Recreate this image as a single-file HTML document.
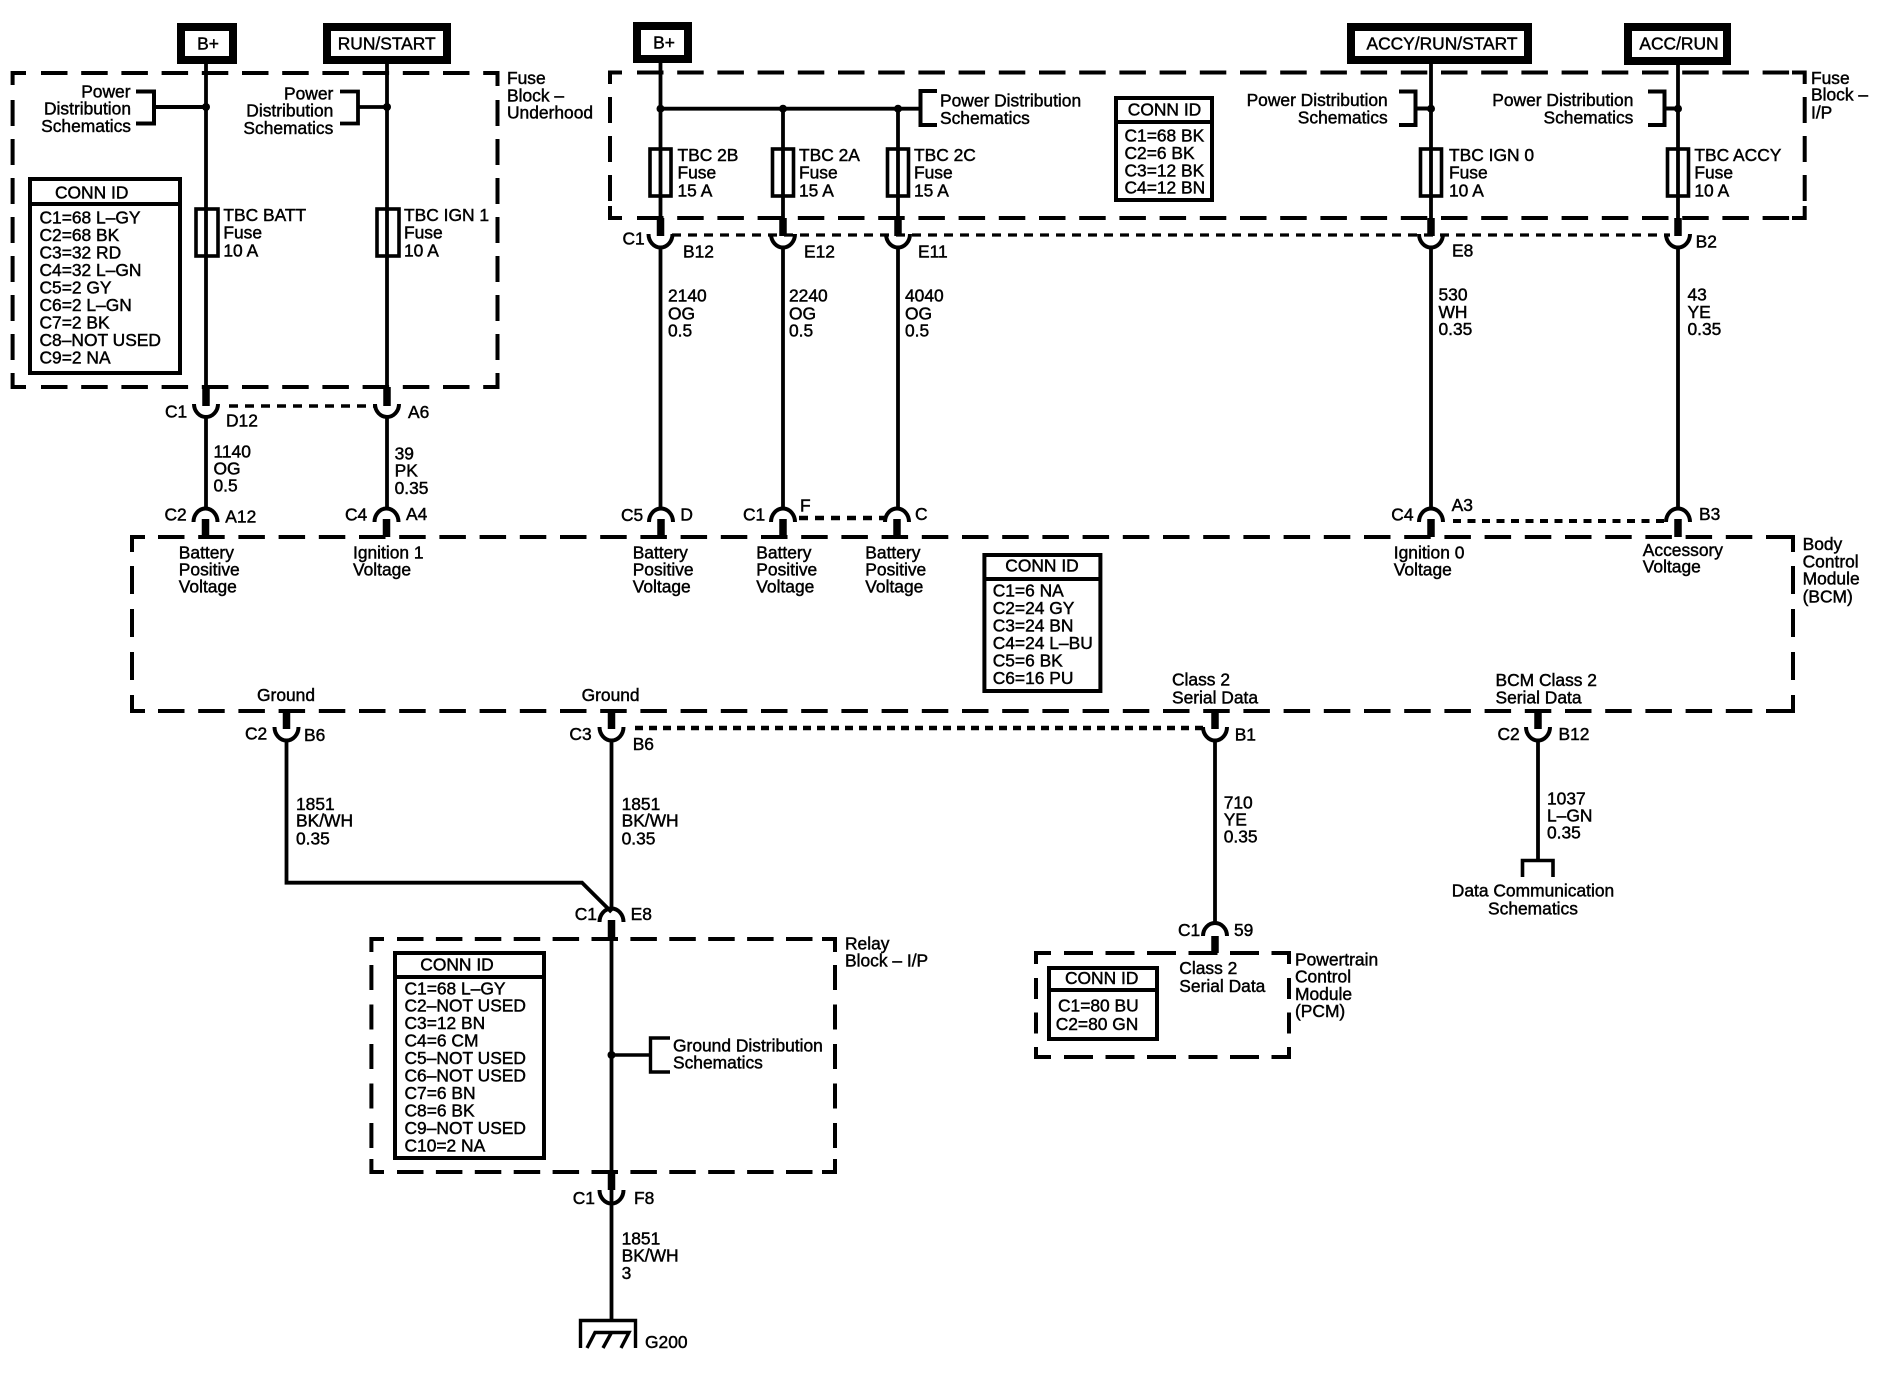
<!DOCTYPE html>
<html>
<head>
<meta charset="utf-8">
<style>
html,body{margin:0;padding:0;background:#fff;width:1878px;height:1392px;overflow:hidden}
svg{display:block}
text{font-family:"Liberation Sans",sans-serif;font-size:17.4px;fill:#000;stroke:#000;stroke-width:.45}
.e{text-anchor:end}.m{text-anchor:middle}
path,line,rect{fill:none;stroke:#000;stroke-width:4}
.w{stroke-width:3.8}
.d{stroke-width:4;stroke-dasharray:26.5 13.7}
.v{stroke-width:4;stroke-dasharray:26 13}
.s{stroke-width:3.6;stroke-dasharray:9 7}
.b{stroke-width:7.5}
.t{stroke-width:8}
.f{fill:#fff;stroke-width:3.6}
circle{fill:#000}
</style>
</head>
<body>
<svg width="1878" height="1392" viewBox="0 0 1878 1392" xmlns="http://www.w3.org/2000/svg">
<rect x="0" y="0" width="1878" height="1392" style="fill:#fff;stroke:none"/>

<!-- Top power boxes -->
<rect class="t" x="181" y="27" width="52" height="33"/>
<rect class="t" x="327" y="27" width="120" height="33"/>
<rect class="t" x="637" y="26" width="51" height="33"/>
<rect class="t" x="1351" y="27" width="177" height="33"/>
<rect class="t" x="1628" y="27" width="99" height="34"/>
<text class="m" x="208" y="49.5">B+</text>
<text class="m" x="386.7" y="49.5">RUN/START</text>
<text class="m" x="664" y="48.5">B+</text>
<text class="m" x="1442" y="49.5">ACCY/RUN/START</text>
<text class="m" x="1679" y="49.5">ACC/RUN</text>

<!-- Fuse Block Underhood -->
<path d="M26 73H12.6V85M484 73H497.5V86M12.6 373V387H26M484 387H497.5V373"/>
<line class="d" x1="41" y1="73" x2="484" y2="73"/>
<line class="d" x1="41" y1="387" x2="484" y2="387"/>
<line class="v" x1="12.6" y1="100" x2="12.6" y2="373"/>
<line class="v" x1="497.5" y1="100" x2="497.5" y2="373"/>

<!-- Fuse Block I/P -->
<path d="M622 72.5H610V84M1792 72.5H1804.7V84M610 206V218H622M1792 218H1804.7V206"/>
<line class="d" x1="637" y1="72.5" x2="1792" y2="72.5"/>
<line class="d" x1="637" y1="218" x2="1792" y2="218"/>
<line class="v" x1="610" y1="97" x2="610" y2="206"/>
<line class="v" x1="1804.7" y1="97" x2="1804.7" y2="206"/>

<!-- BCM -->
<path d="M145 537H132V552M1780 537H1793V552M132 697V711H145M1780 711H1793V697"/>
<line class="d" x1="158" y1="537" x2="1780" y2="537"/>
<line class="d" x1="158" y1="711" x2="1780" y2="711"/>
<line class="v" style="stroke-dasharray:28 15" x1="132" y1="566" x2="132" y2="697"/>
<line class="v" style="stroke-dasharray:28 15" x1="1793" y1="566" x2="1793" y2="697"/>

<!-- Relay block -->
<path d="M384 939H371.4V952M822 939H835V952M371.4 1159V1172H384M822 1172H835V1159"/>
<line class="d" style="stroke-dasharray:26.5 12.4" x1="397" y1="939" x2="822" y2="939"/>
<line class="d" style="stroke-dasharray:26.5 12.4" x1="397" y1="1172" x2="822" y2="1172"/>
<line class="v" style="stroke-dasharray:25 14.5" x1="371.4" y1="965" x2="371.4" y2="1159"/>
<line class="v" style="stroke-dasharray:25 14.5" x1="835" y1="965" x2="835" y2="1159"/>

<!-- PCM -->
<path d="M1051 953H1036V964M1275 953H1289V964M1036 1047V1057H1051M1275 1057H1289V1047"/>
<line class="d" style="stroke-dasharray:29 12.5" x1="1064" y1="953" x2="1275" y2="953"/>
<line class="d" style="stroke-dasharray:29 12.5" x1="1064" y1="1057" x2="1275" y2="1057"/>
<line class="v" style="stroke-dasharray:21 13.5" x1="1036" y1="978" x2="1036" y2="1047"/>
<line class="v" style="stroke-dasharray:21 13.5" x1="1289" y1="978" x2="1289" y2="1047"/>

<!-- Dashed connector links -->
<line class="s" x1="229" y1="406" x2="375" y2="406"/>
<line class="s" style="stroke-width:3.2" x1="672" y1="235" x2="1670" y2="235"/>
<line class="s" style="stroke-width:4.5" x1="799" y1="518" x2="885" y2="518"/>
<line class="s" style="stroke-width:4;stroke-dasharray:8 6.5" x1="1453" y1="521" x2="1665" y2="521"/>
<line class="s" style="stroke-width:4.5;stroke-dasharray:8 6" x1="635" y1="728" x2="1205" y2="728"/>

<!-- Wires -->
<path class="w" d="M206 64V404M387 64V404M206 417V508M387 417V508"/>
<path class="w" d="M660.5 63V233M783 108V233M898 108V233M1431 64V233M1678 64V233"/>
<path class="w" d="M660.5 248V508M783 248V508M898 248V508M1431 248V508M1678 248V508"/>
<path class="w" d="M660.5 108.7H919"/>
<path class="w" d="M286.5 741V882.7H582L611.5 912"/>
<path class="w" d="M611.5 741V908M611.5 939V1320"/>
<path class="w" d="M1215 741V923"/>
<path class="w" d="M1538 741V860"/>

<!-- Brackets -->
<path d="M136 91.5H154V123.5H136M154 107H206"/>
<path d="M340 91.5H358V123.5H340M358 107H387" style="stroke-width:3.8"/>
<path d="M937 91H920.5V125H937"/>
<path d="M1399 91.5H1415.5V125H1399M1415.5 108.5H1431"/>
<path d="M1648 91.5H1664.5V125H1648M1664.5 108.5H1678"/>
<path d="M670 1038H650.5V1072H670M650.5 1055H611.5" style="stroke-width:3.4"/>
<path d="M1522.5 877V860.5H1553V877" style="stroke-width:3.6"/>

<!-- Junction dots -->
<circle cx="206" cy="107" r="4"/><circle cx="387" cy="107" r="4"/>
<circle cx="660.5" cy="108.7" r="4"/><circle cx="783" cy="108.7" r="4"/><circle cx="898" cy="108.7" r="4"/>
<circle cx="1431" cy="108.7" r="4"/><circle cx="1678" cy="108.7" r="4"/>
<circle cx="611.5" cy="1055" r="4"/>

<!-- Fuses -->
<g>
<rect class="f" style="fill:none" x="196" y="209" width="22" height="47"/>
<rect class="f" style="fill:none" x="377" y="209" width="22" height="47"/>
<rect class="f" style="fill:none" x="650" y="149" width="21" height="47"/>
<rect class="f" style="fill:none" x="772.5" y="149" width="21" height="47"/>
<rect class="f" style="fill:none" x="887.5" y="149" width="21" height="47"/>
<rect class="f" style="fill:none" x="1420.5" y="149" width="21" height="47"/>
<rect class="f" style="fill:none" x="1667.5" y="149" width="21" height="47"/>
</g>

<!-- Connector bars and cups -->
<path class="b" d="M206 387V406M387 387V406M660.5 218V236M783 218V236M898 218V236M1431 218V236M1678 218V236"/>
<path class="b" d="M205.5 519V537M386.5 519V537M661 519V537M783 519V537M897 519V537M1431 519V537M1678 519V537"/>
<path class="b" d="M286.5 711V729M611.5 711V729M1215 711V729M1538 711V729"/>
<path class="b" d="M611.5 920V939M611.5 1172V1190M1215 936V953"/>
<path d="M194 404A12 13 0 0 0 218 404M375 404A12 13 0 0 0 399 404"/>
<path d="M648.5 234A12 13.5 0 0 0 672.5 234M771 234A12 13.5 0 0 0 795 234M886 234A12 13.5 0 0 0 910 234M1419 234A12 13.5 0 0 0 1443 234M1666 234A12 13.5 0 0 0 1690 234"/>
<path d="M274.5 727A12 13.5 0 0 0 298.5 727M599.5 727A12 13.5 0 0 0 623.5 727M1203 727A12 13.5 0 0 0 1227 727M1526 727A12 13.5 0 0 0 1550 727"/>
<path d="M599.5 1190A12 13.5 0 0 0 623.5 1190"/>
<path d="M193.5 522A12 13.5 0 0 1 217.5 522M374.5 522A12 13.5 0 0 1 398.5 522M649 522A12 13.5 0 0 1 673 522M771 522A12 13.5 0 0 1 795 522M885 522A12 13.5 0 0 1 909 522M1419 522A12 13.5 0 0 1 1443 522M1666 522A12 13.5 0 0 1 1690 522"/>
<path d="M599.5 922A12 13.5 0 0 1 623.5 922M1203 936A12 13 0 0 1 1227 936"/>

<!-- Ground -->
<path d="M580.5 1348V1320.5H635.5V1348" style="stroke-width:3.4"/>
<path d="M587 1348L595 1332.5H629L621 1348M603 1348L611.5 1332.5" style="stroke-width:3.4"/>

<!-- CONN ID tables -->
<rect x="30" y="179" width="150" height="194"/><line x1="30" y1="204" x2="180" y2="204"/>
<rect x="1116" y="98" width="96" height="102"/><line x1="1116" y1="122" x2="1212" y2="122"/>
<rect x="984.4" y="555" width="116" height="136"/><line x1="984" y1="579" x2="1100" y2="579"/>
<rect x="395" y="953" width="149" height="205"/><line x1="395" y1="977" x2="544" y2="977"/>
<rect x="1049" y="968" width="108" height="71"/><line x1="1049" y1="990" x2="1157" y2="990"/>

<!-- Table text -->
<text class="m" x="91.7" y="198.7">CONN ID</text>
<text x="39.5" y="223.3">C1=68 L–GY</text>
<text x="39.5" y="240.8">C2=68 BK</text>
<text x="39.5" y="258.3">C3=32 RD</text>
<text x="39.5" y="275.8">C4=32 L–GN</text>
<text x="39.5" y="293.3">C5=2 GY</text>
<text x="39.5" y="310.8">C6=2 L–GN</text>
<text x="39.5" y="328.3">C7=2 BK</text>
<text x="39.5" y="345.8">C8–NOT USED</text>
<text x="39.5" y="363.5">C9=2 NA</text>

<text class="m" x="1164.5" y="115.3">CONN ID</text>
<text x="1124.5" y="141.7">C1=68 BK</text>
<text x="1124.5" y="159">C2=6 BK</text>
<text x="1124.5" y="176.5">C3=12 BK</text>
<text x="1124.5" y="193.7">C4=12 BN</text>

<text class="m" x="1042" y="571.7">CONN ID</text>
<text x="992.7" y="596.7">C1=6 NA</text>
<text x="992.7" y="614.2">C2=24 GY</text>
<text x="992.7" y="631.7">C3=24 BN</text>
<text x="992.7" y="649.2">C4=24 L–BU</text>
<text x="992.7" y="666.7">C5=6 BK</text>
<text x="992.7" y="684.2">C6=16 PU</text>

<text class="m" x="457" y="970.7">CONN ID</text>
<text x="404.5" y="994.3">C1=68 L–GY</text>
<text x="404.5" y="1011.7">C2–NOT USED</text>
<text x="404.5" y="1029">C3=12 BN</text>
<text x="404.5" y="1046.7">C4=6 CM</text>
<text x="404.5" y="1064">C5–NOT USED</text>
<text x="404.5" y="1081.5">C6–NOT USED</text>
<text x="404.5" y="1099">C7=6 BN</text>
<text x="404.5" y="1116.5">C8=6 BK</text>
<text x="404.5" y="1134">C9–NOT USED</text>
<text x="404.5" y="1151.7">C10=2 NA</text>

<text class="m" x="1101.7" y="984">CONN ID</text>
<text x="1058" y="1011.7">C1=80 BU</text>
<text x="1055.7" y="1030">C2=80 GN</text>

<!-- Left block labels -->
<text class="e" x="130.5" y="97.3">Power</text>
<text class="e" x="131" y="114.7">Distribution</text>
<text class="e" x="131" y="132">Schematics</text>
<text class="e" x="333.3" y="99.3">Power</text>
<text class="e" x="333.3" y="116.7">Distribution</text>
<text class="e" x="333.3" y="134">Schematics</text>
<text x="507" y="84">Fuse</text>
<text x="507" y="101.3">Block –</text>
<text x="507" y="118.3">Underhood</text>
<text x="223.4" y="221">TBC BATT</text>
<text x="223.4" y="238.3">Fuse</text>
<text x="223.4" y="256.3">10 A</text>
<text x="404" y="221">TBC IGN 1</text>
<text x="404" y="238.3">Fuse</text>
<text x="404" y="256.3">10 A</text>
<text x="165" y="417.3">C1</text>
<text x="226" y="426.7">D12</text>
<text x="408" y="418">A6</text>
<text x="213.5" y="457.3">1140</text>
<text x="213.5" y="474.7">OG</text>
<text x="213.5" y="491.7">0.5</text>
<text x="394.6" y="459.3">39</text>
<text x="394.6" y="476.7">PK</text>
<text x="394.6" y="494">0.35</text>

<!-- I/P block labels -->
<text x="677.5" y="161">TBC 2B</text>
<text x="677.5" y="178.3">Fuse</text>
<text x="677.5" y="196.7">15 A</text>
<text x="799" y="161">TBC 2A</text>
<text x="799" y="178.3">Fuse</text>
<text x="799" y="196.7">15 A</text>
<text x="914" y="161">TBC 2C</text>
<text x="914" y="178.3">Fuse</text>
<text x="914" y="196.7">15 A</text>
<text x="940" y="106.7">Power Distribution</text>
<text x="940" y="124">Schematics</text>
<text class="e" x="1387.7" y="106">Power Distribution</text>
<text class="e" x="1387.7" y="123.3">Schematics</text>
<text class="e" x="1633.4" y="106">Power Distribution</text>
<text class="e" x="1633.4" y="123.3">Schematics</text>
<text x="1449" y="161">TBC IGN 0</text>
<text x="1449" y="178.3">Fuse</text>
<text x="1449" y="196.7">10 A</text>
<text x="1694.4" y="161">TBC ACCY</text>
<text x="1694.4" y="178.3">Fuse</text>
<text x="1694.4" y="196.7">10 A</text>
<text x="1811" y="84">Fuse</text>
<text x="1811" y="100.7">Block –</text>
<text x="1811" y="118.3">I/P</text>
<text x="622.5" y="244.3">C1</text>
<text x="683" y="257.3">B12</text>
<text x="804" y="257.3">E12</text>
<text x="918" y="257.3">E11</text>
<text x="1452" y="256.7">E8</text>
<text x="1695.6" y="247.7">B2</text>
<text x="668" y="301.7">2140</text>
<text x="668" y="319.3">OG</text>
<text x="668" y="336.7">0.5</text>
<text x="789" y="301.7">2240</text>
<text x="789" y="319.3">OG</text>
<text x="789" y="336.7">0.5</text>
<text x="905" y="301.7">4040</text>
<text x="905" y="319.3">OG</text>
<text x="905" y="336.7">0.5</text>
<text x="1438.5" y="300.7">530</text>
<text x="1438.5" y="318">WH</text>
<text x="1438.5" y="335">0.35</text>
<text x="1687.5" y="300.7">43</text>
<text x="1687.5" y="318">YE</text>
<text x="1687.5" y="335">0.35</text>

<!-- BCM connector labels -->
<text x="164.5" y="520.7">C2</text>
<text x="225.3" y="522.3">A12</text>
<text x="345" y="520.7">C4</text>
<text x="406" y="520">A4</text>
<text x="621" y="521">C5</text>
<text x="680.4" y="520.3">D</text>
<text x="743" y="520.7">C1</text>
<text x="800" y="511.7">F</text>
<text x="915" y="520">C</text>
<text x="1391.3" y="520.7">C4</text>
<text x="1451.6" y="511">A3</text>
<text x="1699" y="520">B3</text>

<text x="178.8" y="558.3">Battery</text>
<text x="178.8" y="575.7">Positive</text>
<text x="178.8" y="592.7">Voltage</text>
<text x="353" y="558.3">Ignition 1</text>
<text x="353" y="575.5">Voltage</text>
<text x="632.7" y="558.3">Battery</text>
<text x="632.7" y="575.7">Positive</text>
<text x="632.7" y="592.7">Voltage</text>
<text x="756.3" y="558.3">Battery</text>
<text x="756.3" y="575.7">Positive</text>
<text x="756.3" y="592.7">Voltage</text>
<text x="865.3" y="558.3">Battery</text>
<text x="865.3" y="575.7">Positive</text>
<text x="865.3" y="592.7">Voltage</text>
<text x="1393.8" y="558.3">Ignition 0</text>
<text x="1393.8" y="575.7">Voltage</text>
<text x="1642.8" y="556">Accessory</text>
<text x="1642.8" y="572.7">Voltage</text>
<text x="1802.6" y="550">Body</text>
<text x="1802.6" y="567.3">Control</text>
<text x="1802.6" y="584.7">Module</text>
<text x="1802.6" y="602.3">(BCM)</text>

<text x="257" y="701">Ground</text>
<text x="581.6" y="701">Ground</text>
<text x="1172" y="685.7">Class 2</text>
<text x="1172" y="703.3">Serial Data</text>
<text x="1495.5" y="686">BCM Class 2</text>
<text x="1495.5" y="703.3">Serial Data</text>

<text x="245" y="739.3">C2</text>
<text x="304" y="741">B6</text>
<text x="569.4" y="740">C3</text>
<text x="632.7" y="750">B6</text>
<text x="1234.7" y="740.7">B1</text>
<text x="1497.5" y="740">C2</text>
<text x="1558.5" y="740">B12</text>

<text x="296" y="810">1851</text>
<text x="296" y="826.7">BK/WH</text>
<text x="296" y="844.3">0.35</text>
<text x="621.6" y="810">1851</text>
<text x="621.6" y="826.7">BK/WH</text>
<text x="621.6" y="844.3">0.35</text>
<text x="1223.7" y="808.3">710</text>
<text x="1223.7" y="825.7">YE</text>
<text x="1223.7" y="842.7">0.35</text>
<text x="1547" y="804.3">1037</text>
<text x="1547" y="821.7">L–GN</text>
<text x="1547" y="838.7">0.35</text>
<text class="m" x="1533" y="896.7">Data Communication</text>
<text class="m" x="1533" y="914.3">Schematics</text>

<!-- Relay labels -->
<text x="574.7" y="920">C1</text>
<text x="630.6" y="920">E8</text>
<text x="845" y="949.3">Relay</text>
<text x="845" y="966.7">Block – I/P</text>
<text x="673" y="1051.7">Ground Distribution</text>
<text x="673" y="1068.3">Schematics</text>
<text x="572.7" y="1204">C1</text>
<text x="634" y="1204">F8</text>
<text x="621.6" y="1244.3">1851</text>
<text x="621.6" y="1261.7">BK/WH</text>
<text x="621.6" y="1279">3</text>
<text x="645" y="1348">G200</text>

<!-- PCM labels -->
<text x="1178" y="936">C1</text>
<text x="1234" y="936">59</text>
<text x="1179.3" y="974">Class 2</text>
<text x="1179.3" y="992">Serial Data</text>
<text x="1295" y="965.7">Powertrain</text>
<text x="1295" y="982.7">Control</text>
<text x="1295" y="1000">Module</text>
<text x="1295" y="1017">(PCM)</text>
</svg>
</body>
</html>
